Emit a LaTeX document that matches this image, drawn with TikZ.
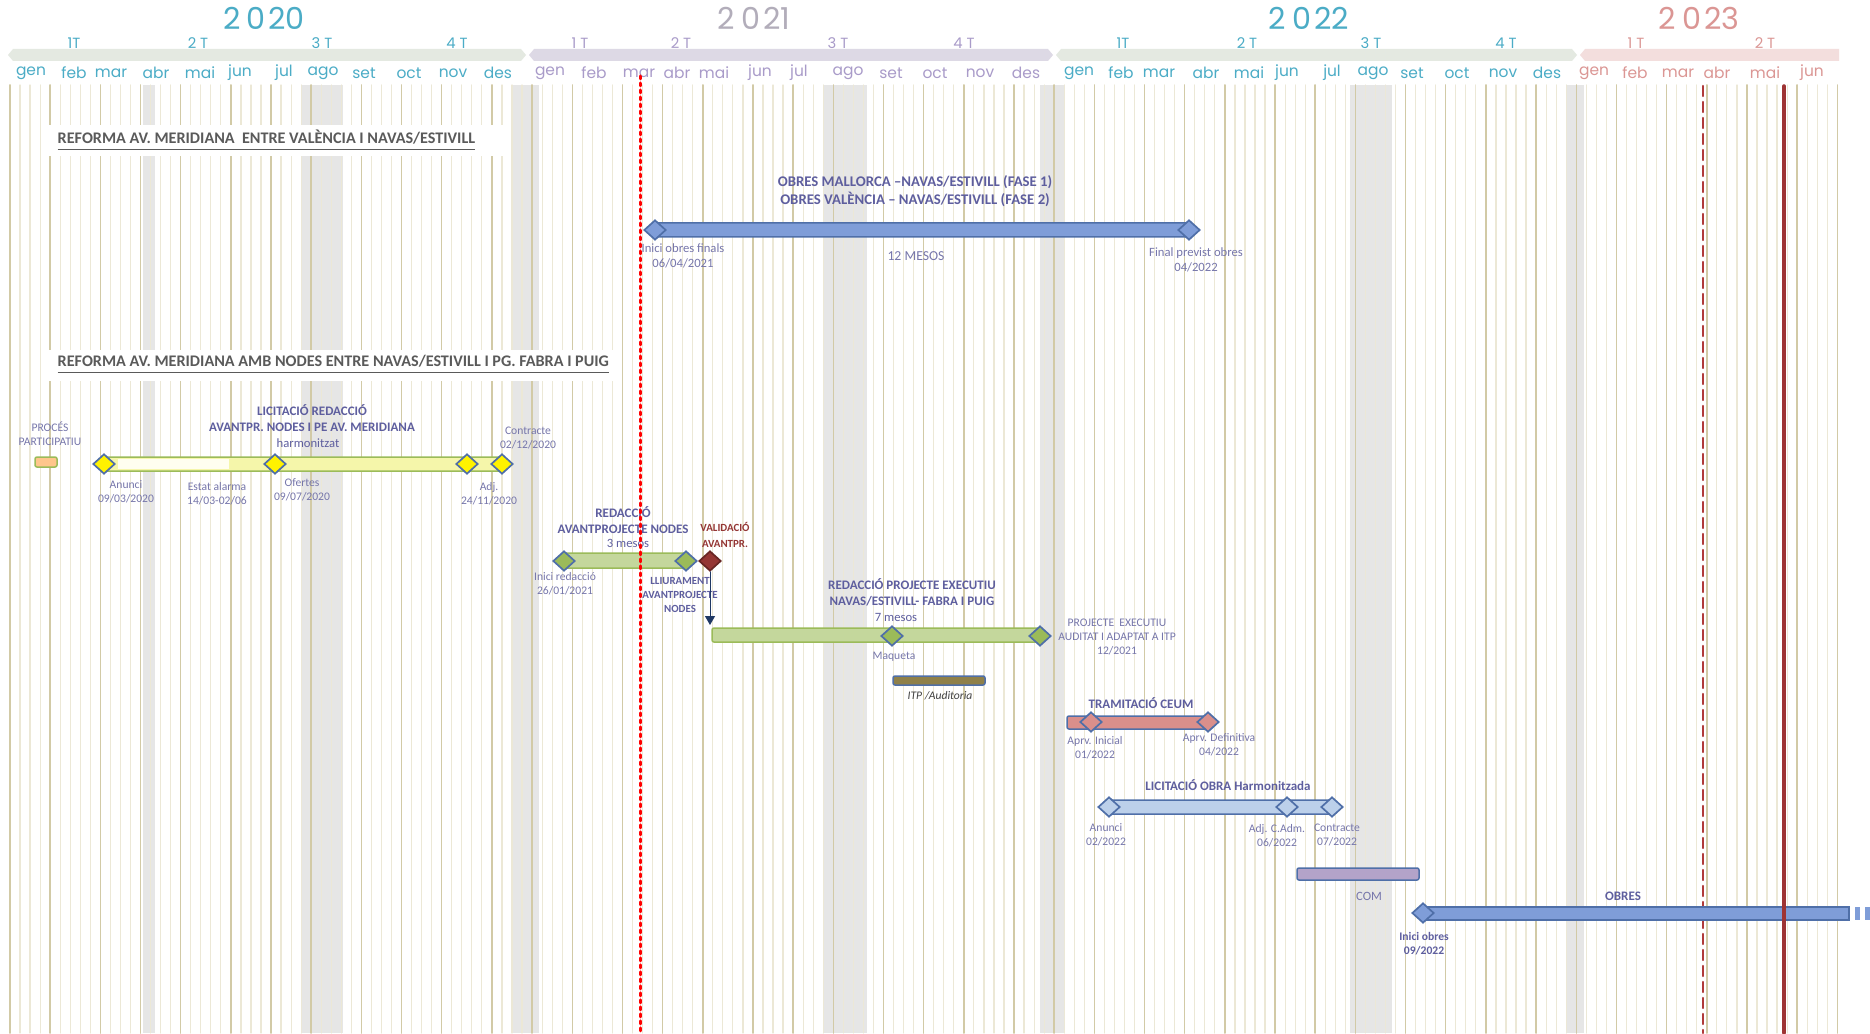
\documentclass[tikz,border=0pt]{standalone}
\usepackage{fontspec}
\setmainfont{Carlito}
\newfontfamily\gothic{Poppins}
\usetikzlibrary{arrows.meta, shapes.geometric}

\definecolor{aqua}{HTML}{4BACC6}
\definecolor{lila}{HTML}{A99BC9}
\definecolor{lilagray}{HTML}{B2ADBA}
\definecolor{salmon}{HTML}{DB9694}
\definecolor{barsage}{HTML}{E4E9E1}
\definecolor{barlila}{HTML}{DDD9E5}
\definecolor{barpink}{HTML}{F3DEDD}
\definecolor{weekline}{HTML}{ECE8D6}
\definecolor{monthline}{HTML}{D2CAA6}
\definecolor{holigray}{HTML}{E6E6E6}
\definecolor{ink}{HTML}{5E5E9E}
\definecolor{inklight}{HTML}{7676AA}
\definecolor{titlegray}{HTML}{5A5A5A}
\definecolor{edgeblue}{HTML}{4F6FA8}
\definecolor{obresblue}{HTML}{7F9DD8}
\definecolor{licblue}{HTML}{BCD0EA}
\definecolor{ceum}{HTML}{DA8F8B}
\definecolor{compurple}{HTML}{B3A3C9}
\definecolor{itpolive}{HTML}{8F8049}
\definecolor{redgreen}{HTML}{C4D79C}
\definecolor{leafgreen}{HTML}{9BBB59}
\definecolor{lightyellow}{HTML}{F5F6AA}
\definecolor{validred}{HTML}{943634}
\definecolor{markred}{HTML}{B03A3A}
\definecolor{navy}{HTML}{1F3864}

\begin{document}
\begin{tikzpicture}[%
        x = 0.1mm,
        y = -0.1mm,
        line cap = round,
        yearlab/.style = {font = \gothic\fontsize{8.6}{10}\selectfont},
        quarter/.style = {font = \gothic\fontsize{4.2}{5}\selectfont},
        month/.style = {font = \gothic\fontsize{4.4}{5}\selectfont},
        title/.style = {anchor = west, inner sep = 0, text = titlegray,
            font = \bfseries\fontsize{4.6}{5.4}\selectfont},
        head/.style = {align = center, inner sep = 0, text = ink,
            font = \bfseries\fontsize{3.7}{4.6}\selectfont},
        lbl/.style = {align = center, inner sep = 0, text = inklight,
            font = \fontsize{3.3}{3.9}\selectfont},
        note/.style = {align = center, inner sep = 0, text = inklight,
            font = \fontsize{3.6}{4.2}\selectfont},
        task/.style = {draw = edgeblue, line width = 0.15mm,
            rounded corners = 0.2mm},
        milestone/.style = {diamond, draw = edgeblue, line width = 0.17mm,
            minimum width = 2.2mm, minimum height = 2.0mm, inner sep = 0}
    ]

        \useasboundingbox (0,0) rectangle (1870,1033);
        \fill[white] (0,0) rectangle (1870,1033);

        % Grey bands for the holiday weeks.
        \foreach \a/\b in {143/155, 302/343, 513/539, 823/867,
                1040/1065, 1350/1392, 1566/1584}
            \fill[holigray] (\a,85) rectangle (\b,1033);

        % Weekly grid, a darker line where a month starts.
        \foreach \w in {0,...,181}
            \draw[weekline, line width = 0.12mm] ({10+10.04*\w},85) -- ++(0,948);
        \foreach \m [evaluate = \m as \mx using {10+10.04*round(\m*13/3)}]
                in {0,...,42}
            \draw[monthline, line width = 0.15mm] (\mx,85) -- ++(0,948);

        % White behind the two section titles.
        \fill[white] (49,125) rectangle (504,156);
        \fill[white] (49,350) rectangle (614,381);

        % Years, quarters and months.
        \node[yearlab, text = aqua] (y2020) at (264,18) {2\hspace{0.2em}0\hspace{0.1em}20};
        \node[yearlab, text = lilagray] (y2021) at (754,18) {2\hspace{0.2em}0\hspace{0.1em}21};
        \node[yearlab, text = aqua] (y2022) at (1309,18) {2\hspace{0.2em}0\hspace{0.1em}22};
        \node[yearlab, text = salmon] (y2023) at (1699,18) {2\hspace{0.2em}0\hspace{0.1em}23};

        \fill[barsage] (8,55) -- (13,49) -- (521,49) -- (526,55) -- (521,61) -- (13,61) -- cycle;
        \fill[barlila] (529,55) -- (534,49) -- (1048,49) -- (1053,55) -- (1048,61) -- (534,61) -- cycle;
        \fill[barsage] (1056,55) -- (1061,49) -- (1572,49) -- (1577,55) -- (1572,61) -- (1061,61) -- cycle;
        \fill[barpink] (1580,55) -- (1585,49) -- (1839,49) -- (1839,61) -- (1585,61) -- cycle;

        \foreach \x/\t [count = \i] in {74/1T, 198/2 T, 322/3 T, 457/4 T}
            \node[quarter, text = aqua] (q20-\i) at (\x,43) {\t};
        \foreach \x/\t [count = \i] in {580/1 T, 681/2 T, 838/3 T, 964/4 T}
            \node[quarter, text = lila] (q21-\i) at (\x,43) {\t};
        \foreach \x/\t [count = \i] in {1123/1T, 1247/2 T, 1371/3 T, 1506/4 T}
            \node[quarter, text = aqua] (q22-\i) at (\x,43) {\t};
        \foreach \x/\t [count = \i] in {1636/1 T, 1765/2 T}
            \node[quarter, text = salmon] (q23-\i) at (\x,43) {\t};

        \foreach \x/\t in {31/gen, 74/feb, 111/mar, 156/abr, 200/mai, 240/jun,
                284/jul, 323/ago, 364/set, 409/oct, 453/nov, 498/des}
            \node[month, text = aqua] (m20-\t) at (\x,73) {\t};
        \foreach \x/\t in {550/gen, 594/feb, 639/mar, 677/abr, 714/mai, 760/jun,
                799/jul, 848/ago, 891/set, 935/oct, 980/nov, 1026/des}
            \node[month, text = lila] (m21-\t) at (\x,73) {\t};
        \foreach \x/\t in {1079/gen, 1121/feb, 1159/mar, 1206/abr, 1249/mai, 1287/jun,
                1332/jul, 1373/ago, 1412/set, 1457/oct, 1503/nov, 1547/des}
            \node[month, text = aqua] (m22-\t) at (\x,73) {\t};
        \foreach \x/\t in {1594/gen, 1635/feb, 1678/mar, 1717/abr, 1765/mai, 1812/jun}
            \node[month, text = salmon] (m23-\t) at (\x,73) {\t};

        % Planned mark of 2023.
        \draw[markred, line width = 0.25mm, dash pattern = on 1mm off 0.6mm]
            (1703,86) -- (1703,1033);

        % ---------------------------------------------------------------
        % Section 1: between Valencia and Navas/Estivill.
        \node[title] (tit1) at (57,141)
            {\underline{REFORMA AV. MERIDIANA\ \ ENTRE VALÈNCIA I NAVAS/ESTIVILL}};

        \node[head, font = \bfseries\fontsize{4.2}{5.2}\selectfont] (obresF) at (915,191)
            {OBRES MALLORCA –NAVAS/ESTIVILL (FASE 1)\\OBRES VALÈNCIA – NAVAS/ESTIVILL (FASE 2)};
        \draw[task, fill = obresblue] (655,223) rectangle (1189,237);
        \node[milestone, fill = obresblue] (iniciF) at (655,230) {};
        \node[milestone, fill = obresblue] (finalF) at (1189,230) {};
        \node[lbl, font = \fontsize{3.6}{4.2}\selectfont] (lIniciF) at (683,256)
            {Inici obres finals\\06/04/2021};
        \node[note, font = \fontsize{3.9}{4.5}\selectfont] (mesos12) at (916,256) {12 MESOS};
        \node[lbl, font = \fontsize{3.6}{4.2}\selectfont] (lFinalF) at (1196,260)
            {Final previst obres\\04/2022};

        % ---------------------------------------------------------------
        % Section 2: nodes between Navas/Estivill and Fabra i Puig.
        \node[title] (tit2) at (57,365)
            {\underline{REFORMA AV. MERIDIANA AMB NODES ENTRE NAVAS/ESTIVILL I PG. FABRA I PUIG}};

        % Participation process.
        \node[lbl] (proces) at (50,434) {PROCÉS\\PARTICIPATIU};
        \draw[draw = leafgreen, fill = orange!45, line width = 0.15mm,
            rounded corners = 0.2mm] (35,457) rectangle (57,467);

        % Tender for the draft.
        \node[head] (licRed) at (312,418)
            {LICITACIÓ REDACCIÓ\\AVANTPR. NODES I PE AV. MERIDIANA};
        \node[note, text = ink] (harm) at (308,443) {harmonitzat};
        \node[lbl] (lContr20) at (528,438) {Contracte\\02/12/2020};
        \draw[task, draw = leafgreen, fill = lightyellow] (104,457) rectangle (502,471);
        \fill[yellow!6] (118,459) rectangle (229,469);
        \foreach \x/\n in {104/anunci20, 275/ofertes20, 467/adj20, 502/contr20}
            \node[milestone, fill = yellow] (\n) at (\x,464) {};
        \node[lbl] (lAnunci20) at (126,492) {Anunci\\09/03/2020};
        \node[lbl] (lAlarma) at (217,494) {Estat alarma\\14/03-02/06};
        \node[lbl] (lOfertes20) at (302,490) {Ofertes\\09/07/2020};
        \node[lbl] (lAdj20) at (489,494) {Adj.\\24/11/2020};

        % Draft of the nodes.
        \node[head] (redAv) at (623,520) {REDACCIÓ\\AVANTPROJECTE NODES};
        \node[note, text = ink] (mesos3) at (628,543) {3 mesos};
        \draw[task, draw = leafgreen, fill = redgreen] (564,553) rectangle (686,568);
        \node[milestone, fill = leafgreen] (iniciRed) at (564,561) {};
        \node[milestone, fill = leafgreen] (lliurRed) at (686,561) {};
        \node[lbl] (lIniciRed) at (565,584) {Inici redacció\\26/01/2021};
        \node[head, font = \bfseries\fontsize{3.1}{3.9}\selectfont] (lLliur) at (680,595)
            {LLIURAMENT\\AVANTPROJECTE\\NODES};

        % Validation, and the executive project that follows it.
        \node[milestone, fill = validred, draw = validred!70!black] (valid) at (710,561) {};
        \node[head, text = validred, font = \bfseries\fontsize{3.1}{4.3}\selectfont]
            (lValid) at (725,535) {VALIDACIÓ\\AVANTPR.};
        \coordinate (execIn) at (710,625);
        \draw[navy, line width = 0.1mm, -{Triangle[length = 0.9mm, width = 1mm]}]
            (valid) -- (execIn);

        \node[head] (redExe) at (912,592)
            {REDACCIÓ PROJECTE EXECUTIU\\NAVAS/ESTIVILL- FABRA I PUIG};
        \node[note, text = ink] (mesos7) at (896,617) {7 mesos};
        \draw[task, draw = leafgreen, fill = redgreen] (712,628) rectangle (1041,642);
        \node[milestone, fill = leafgreen] (maqueta) at (892,636) {};
        \node[milestone, fill = leafgreen] (exeDone) at (1040,636) {};
        \node[lbl] (lMaqueta) at (894,657) {Maqueta};
        \node[lbl] (lExeDone) at (1117,637)
            {PROJECTE\ \ EXECUTIU\\AUDITAT I ADAPTAT A ITP\\12/2021};
        \draw[task, fill = itpolive] (893,676) rectangle (985,685);
        \node[lbl, text = black!75, font = \itshape\fontsize{3.3}{3.9}\selectfont]
            (itp) at (940,696) {ITP /Auditoria};

        % CEUM procedure.
        \node[head] (ceumT) at (1141,703) {TRAMITACIÓ CEUM};
        \draw[task, fill = ceum] (1067,716) rectangle (1212,729);
        \node[milestone, fill = ceum] (aprIni) at (1091,722) {};
        \node[milestone, fill = ceum] (aprDef) at (1208,722) {};
        \node[lbl] (lAprIni) at (1095,748) {Aprv. Inicial\\01/2022};
        \node[lbl] (lAprDef) at (1219,745) {Aprv. Definitiva\\04/2022};

        % Tender for the works.
        \node[head] (licObra) at (1228,785) {LICITACIÓ OBRA Harmonitzada};
        \draw[task, fill = licblue] (1109,800) rectangle (1332,814);
        \node[milestone, fill = licblue] (anunci22) at (1109,807) {};
        \node[milestone, fill = licblue] (adj22) at (1287,807) {};
        \node[milestone, fill = licblue] (contr22) at (1332,807) {};
        \node[lbl] (lAnunci22) at (1106,835) {Anunci\\02/2022};
        \node[lbl] (lAdj22) at (1277,836) {Adj. C.Adm.\\06/2022};
        \node[lbl] (lContr22) at (1337,835) {Contracte\\07/2022};

        % COM and the works.
        \draw[task, fill = compurple] (1297,868) rectangle (1419,880);
        \node[note] (com) at (1369,896) {COM};
        \node[head] (obresT) at (1623,896) {OBRES};
        \draw[task, fill = obresblue, rounded corners = 0] (1423,907) rectangle (1849,920);
        \fill[obresblue] (1855,907) rectangle (1860,920);
        \fill[obresblue] (1865,907) rectangle (1870,920);
        \node[milestone, fill = obresblue] (iniciObres) at (1423,913) {};
        \node[head, font = \bfseries\fontsize{3.3}{4}\selectfont]
            (lIniciObres) at (1424,944) {Inici obres\\09/2022};

        % Red markers drawn last so that they sit on top.
        \draw[red, line width = 0.3mm, dash pattern = on 0.3mm off 0.4mm]
            (640,76) -- (640,1033);
        \draw[markred!90!black, line width = 0.35mm] (1784,86) -- (1784,1033);

    \end{tikzpicture}
\end{document}
